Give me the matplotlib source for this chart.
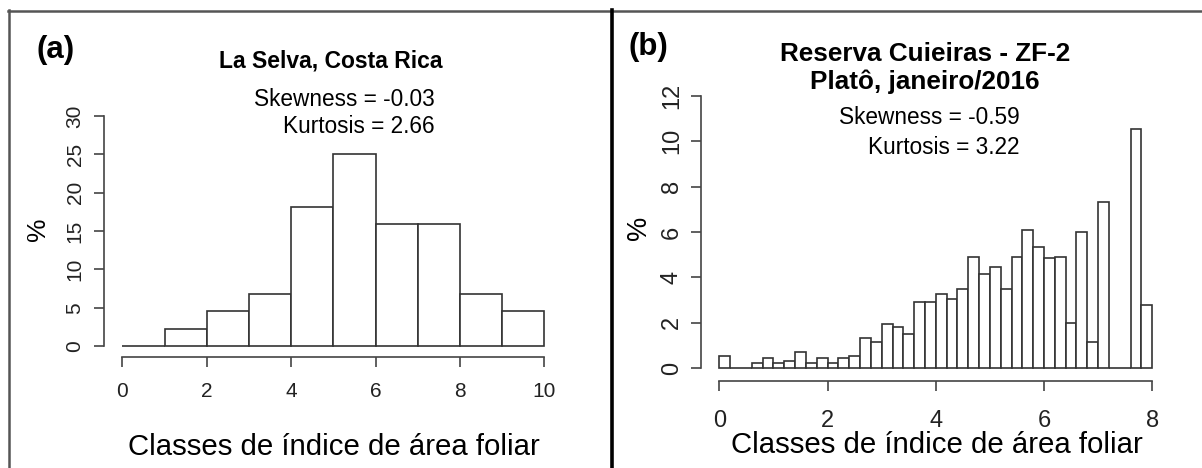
import numpy as np
import matplotlib
matplotlib.use("Agg")
import matplotlib.pyplot as plt
from matplotlib.lines import Line2D

plt.rcParams['font.family'] = ['Liberation Sans', 'DejaVu Sans']

# (a) La Selva, Costa Rica - bins of width 1
edges_a = [0, 1, 2, 3, 4, 5, 6, 7, 8, 9, 10]
pct_a = [0.0, 2.27, 4.55, 6.82, 18.18, 25.0, 15.91, 15.91, 6.82, 4.55]

# (b) Reserva Cuieiras - ZF-2, bins of width 0.2
edges_b = np.round(np.arange(0, 8.01, 0.2), 1)
pct_b = [0.55, 0.0, 0.0, 0.25, 0.45, 0.25, 0.30, 0.70, 0.25, 0.45,
         0.25, 0.45, 0.55, 1.35, 1.15, 1.95, 1.80, 1.50, 2.90, 2.90,
         3.25, 3.05, 3.50, 4.90, 4.15, 4.45, 3.50, 4.90, 6.10, 5.35,
         4.85, 4.90, 2.00, 6.00, 1.15, 7.30, 0.0, 0.0, 10.55, 2.80]

W, H = 1202, 468
fig = plt.figure(figsize=(W / 100, H / 100), dpi=100)


def fx(px):
    return px / W


def fy(py):
    return 1 - py / H


def make_axes(left, top, right, bottom):
    return fig.add_axes([fx(left), fy(bottom), fx(right - left), (bottom - top) / H])


def style(ax, xmax, ymax, ysteps, tick_fs, xpad, ypad):
    for s in ['top', 'right']:
        ax.spines[s].set_visible(False)
    for s in ['left', 'bottom']:
        ax.spines[s].set_color('#444444')
        ax.spines[s].set_linewidth(1.2)
    ax.spines['left'].set_bounds(0, ymax)
    ax.spines['bottom'].set_bounds(0, xmax)
    ax.set_yticks(ysteps)
    ax.tick_params(colors='#444444', width=1.2, length=7, direction='out',
                   labelsize=tick_fs, labelcolor='#222222')
    ax.tick_params(axis='x', pad=xpad)
    ax.tick_params(axis='y', pad=ypad)
    for lab in ax.get_yticklabels():
        lab.set_rotation(90)
        lab.set_va('center')


# panel (a)
ax1 = make_axes(104, 106.8, 561.2, 357)
ax1.bar(edges_a[:-1], pct_a, width=np.diff(edges_a), align='edge',
        color='white', edgecolor='#333333', linewidth=1.2)
ax1.set_xlim(-0.434, 10.4)
ax1.set_ylim(-1.43, 31.2)
ax1.set_xticks([0, 2, 4, 6, 8, 10])
style(ax1, 10, 30, [0, 5, 10, 15, 20, 25, 30], 15, 11, 7)

# panel (b)
ax2 = make_axes(701, 84.8, 1169.5, 380.7)
ax2.bar(edges_b[:-1], pct_b, width=np.diff(edges_b), align='edge',
        color='white', edgecolor='#333333', linewidth=1.2)
ax2.set_xlim(-0.34, 8.32)
ax2.set_ylim(-0.546, 12.48)
ax2.set_xticks([0, 2, 4, 6, 8])
style(ax2, 8, 12, [0, 2, 4, 6, 8, 10, 12], 17, 14, 6)

# texts panel (a)
fig.text(fx(36), fy(50), '(a)', fontsize=22.5, fontweight='bold', va='center', ha='left')
fig.text(fx(331), fy(61), 'La Selva, Costa Rica', fontsize=16.5, fontweight='bold',
         ha='center', va='center')
fig.text(fx(435), fy(99), 'Skewness = -0.03', fontsize=16.3, ha='right', va='center')
fig.text(fx(435), fy(127), 'Kurtosis = 2.66', fontsize=16.3, ha='right', va='center')
fig.text(fx(37.5), fy(229), '%', fontsize=19, rotation=90, ha='center', va='center')
fig.text(fx(334), fy(447), 'Classes de índice de área foliar', fontsize=21.2,
         ha='center', va='center')

# texts panel (b)
fig.text(fx(628), fy(47), '(b)', fontsize=22.5, fontweight='bold', va='center', ha='left')
fig.text(fx(925), fy(54), 'Reserva Cuieiras - ZF-2', fontsize=18.8, fontweight='bold',
         ha='center', va='center')
fig.text(fx(925), fy(82), 'Platô, janeiro/2016', fontsize=18.8, fontweight='bold',
         ha='center', va='center')
fig.text(fx(1020), fy(118), 'Skewness = -0.59', fontsize=16.3, ha='right', va='center')
fig.text(fx(1020), fy(147), 'Kurtosis = 3.22', fontsize=16.3, ha='right', va='center')
fig.text(fx(639), fy(228), '%', fontsize=19.5, rotation=90, ha='center', va='center')
fig.text(fx(937), fy(445), 'Classes de índice de área foliar', fontsize=21.2,
         ha='center', va='center')

# outer frame and divider
fig.add_artist(Line2D([fx(8), fx(W)], [fy(10.7), fy(10.7)], color='#555555', lw=1.8))
fig.add_artist(Line2D([fx(8.7), fx(8.7)], [fy(10), fy(H)], color='#555555', lw=1.8))
fig.add_artist(Line2D([fx(612), fx(612)], [fy(10), fy(H)], color='black', lw=2.6))

fig.savefig('out.png', dpi=100)
